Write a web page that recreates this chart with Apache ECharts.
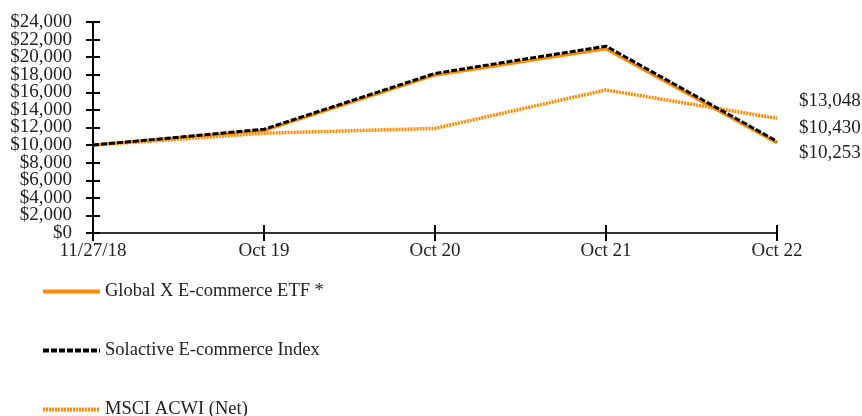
<!DOCTYPE html>
<html>
<head>
<meta charset="utf-8">
<script src="https://cdn.jsdelivr.net/npm/echarts@6/dist/echarts.min.js"></script>
<style>
html, body { margin: 0; padding: 0; background: #fff; }
#chart { width: 862px; height: 416px; }
</style>
</head>
<body>
<div id="chart"></div>
<script>
var categories = ['11/27/18', 'Oct 19', 'Oct 20', 'Oct 21', 'Oct 22'];
var seriesNames = ['Global X E-commerce ETF *', 'Solactive E-commerce Index', 'MSCI ACWI (Net)'];
var etfValues = [10000, 11650, 17950, 20950, 10253];
var indexValues = [10000, 11800, 18150, 21250, 10430];
var msciValues = [10000, 11350, 11900, 16270, 13048];

var orange = '#FF8A00';
var font = 'Liberation Serif';

function money(v) {
	return '$' + v.toLocaleString('en-US');
}

var chart = echarts.init(document.getElementById('chart'));

function endLabel(dy) {
	return {
		show : true,
		formatter : function(p) { return money(p.value); },
		offset : [14, dy],
		color : '#222',
		fontFamily : font,
		fontSize : 19
	};
}

// the tick labels sit closer than their height, so split them over two
// overlapping axes (every other label) to stop echarts hiding some
function yAxisDef(odd, inside) {
	return {
		type : 'value',
		min : 0,
		max : 24000,
		interval : 2000,
		position : 'left',
		splitLine : { show : false },
		axisLine : { show : !inside, lineStyle : { color : '#000', width : 2 } },
		axisTick : { show : true, inside : inside, length : 7, lineStyle : { color : '#000', width : 2 } },
		axisLabel : {
			fontFamily : font, fontSize : 19, color : '#222', margin : 21,
			showMinLabel : true, showMaxLabel : true,
			formatter : function(v) { return ((v / 2000) % 2 === 1) === odd ? money(v) : ''; }
		}
	};
}

// one legend per row so they stack like the original
var legends = [];
for (var i = 0; i < seriesNames.length; i++) {
	legends.push({
		left : 41,
		top : 282 + i * 59,
		padding : 0,
		itemWidth : 57,
		itemHeight : 14,
		itemGap : 0,
		itemStyle : { opacity : 0 },
		lineStyle : { width : 4 },
		textStyle : { fontFamily : font, fontSize : 18.5, color : '#222' },
		data : [ seriesNames[i] ]
	});
}

var option = {
	animation : false,
	legend : legends,
	grid : { left : 93, top : 22, right : 85, bottom : 183 },
	xAxis : [ {
		type : 'category',
		data : categories,
		boundaryGap : false,
		axisLine : { lineStyle : { color : '#333', width : 2 } },
		axisTick : { alignWithLabel : true, length : 8, lineStyle : { color : '#000', width : 2 } },
		axisLabel : { fontFamily : font, fontSize : 19, color : '#222', margin : 9, interval : 0 }
	}, {
		type : 'category',
		data : categories,
		boundaryGap : false,
		position : 'bottom',
		axisLine : { show : false },
		axisTick : { inside : true, length : 8, lineStyle : { color : '#000', width : 2 } },
		axisLabel : { show : false }
	} ],
	yAxis : [ yAxisDef(false, false), yAxisDef(true, true) ],
	series : [ {
		name : seriesNames[2],
		type : 'line',
		data : msciValues,
		symbol : 'none',
		color : orange,
		lineStyle : { color : orange, width : 3.5, type : [2, 1] },
		endLabel : endLabel(-17),
		z : 2
	}, {
		name : seriesNames[0],
		type : 'line',
		data : etfValues,
		symbol : 'none',
		color : orange,
		lineStyle : { color : orange, width : 3 },
		endLabel : endLabel(10),
		z : 3
	}, {
		name : seriesNames[1],
		type : 'line',
		data : indexValues,
		symbol : 'none',
		color : '#000',
		lineStyle : { color : '#000', width : 3, type : [6, 2] },
		endLabel : endLabel(-13),
		z : 4
	} ]
};
chart.setOption(option);
</script>
</body>
</html>
